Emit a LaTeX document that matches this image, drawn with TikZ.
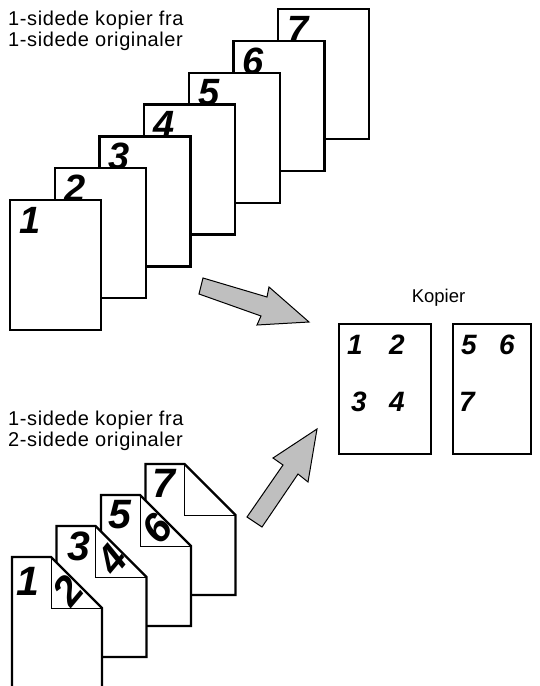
\documentclass[tikz,border=0pt]{standalone}
\usepackage{fontspec}
\newfontfamily\labfont{Liberation Sans}[LetterSpace=3]
\newfontfamily\kopfont{Liberation Sans}
\newfontfamily\digfont{Liberation Sans}[BoldItalicFont={Liberation Sans Bold Italic}]
\tikzset{
  x=1pt, y=-1pt,
  page/.style={draw=black, line width=2.3pt, fill=white, line join=miter},
  flapline/.style={draw=black, line width=0.9pt},
  bigarrow/.style={draw=black, line width=1pt, fill=black!25, line join=miter},
  digit/.style={inner sep=0pt, font=\digfont\fontsize{38}{38}\selectfont\bfseries\itshape},
  bdigit/.style={inner sep=0pt, font=\digfont\fontsize{41}{41}\selectfont\bfseries\itshape},
  cdigit/.style={inner sep=0pt, font=\digfont\fontsize{28}{28}\selectfont\bfseries\itshape},
  lab/.style={inner sep=0pt, anchor=base west, font=\labfont\fontsize{20}{21}\selectfont},
}
\begin{document}
\begin{tikzpicture}
\useasboundingbox (0,0) rectangle (540,686);
\clip (0,0) rectangle (540,686);
% labels
\node[lab] (lab1a) at (8,25) {1-sidede kopier fra};
\node[lab] (lab1b) at (8,46) {1-sidede originaler};
\node[lab] (lab2a) at (8,425) {1-sidede kopier fra};
\node[lab] (lab2b) at (8,446) {2-sidede originaler};
\node[inner sep=0pt, anchor=base, font=\kopfont\fontsize{18.5}{18.5}\selectfont] (kop) at (438.5,302) {Kopier};
% top stack
\foreach \i in {6,5,...,0}{
  \pgfmathsetmacro{\L}{10+44.7*\i}
  \pgfmathsetmacro{\T}{200-31.8*\i}
  \pgfmathtruncatemacro{\n}{\i+1}
  \draw[page] (\L,\T) rectangle ++(91,130);
  \node[digit] (t\n) at (\L+20,\T+20) {\n};
}
% bottom stack
\foreach \j/\a/\b/\dx/\dy in {3/7//18/19, 2/5/6/19/20, 1/3/4/22/20, 0/1/2/16/24}{
  \pgfmathsetmacro{\L}{12+44.5*\j}
  \pgfmathsetmacro{\T}{557-31*\j}
  \draw[page] (\L,\T) -- ++(39,0) -- ++(51,51) -- ++(0,80) -- ++(-90,0) -- cycle;
  \begin{scope}
    \clip (\L+39,\T) -- ++(51,51) -- ++(-51,0) -- cycle;
    \node[bdigit, rotate=50] (f\j) at (\L+39+17,\T+34) {\b};
  \end{scope}
  \draw[flapline] (\L+39,\T) -- ++(0,51) -- ++(51,0);
  \node[bdigit] (b\a) at (\L+\dx,\T+\dy) {\a};
}
% arrows
\draw[bigarrow] (203,278) -- (267,297) -- (269,287) -- (309,322) -- (257,325) -- (261,316) -- (199,294) -- cycle;
\draw[bigarrow] (247,517) -- (283,465) -- (273,458) -- (317,429) -- (308,482) -- (298,474) -- (262,527) -- cycle;
% copies
\draw[page] (339,324) rectangle (431,454);
\draw[page] (453,324) rectangle (531,454);
\node[cdigit] (c1) at (355,345) {1};
\node[cdigit] (c2) at (397,345) {2};
\node[cdigit] (c3) at (359,402) {3};
\node[cdigit] (c4) at (397,402) {4};
\node[cdigit] (c5) at (469,345) {5};
\node[cdigit] (c6) at (507,345) {6};
\node[cdigit] (c7) at (467,402) {7};
\end{tikzpicture}
\end{document}
